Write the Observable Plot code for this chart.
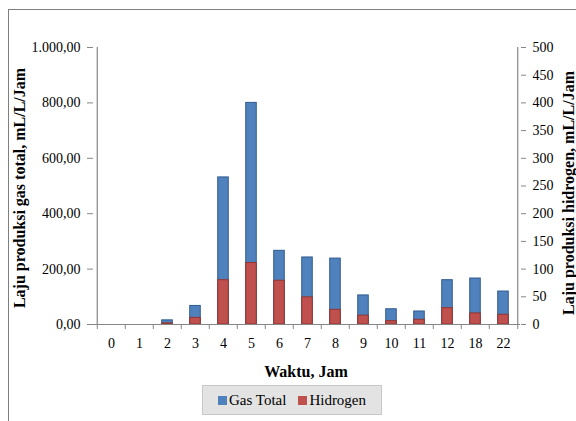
<!DOCTYPE html>
<html>
<head>
<meta charset="utf-8">
<script src="https://cdn.jsdelivr.net/npm/d3@7"></script>
<script src="https://cdn.jsdelivr.net/npm/@observablehq/plot@0.6"></script>
<style>
  html, body { margin: 0; padding: 0; background: #fff; }
  #wrap { position: relative; width: 576px; height: 421px; overflow: hidden; font-family: "Liberation Serif", "Times New Roman", serif; }
  #frame { position: absolute; left: 8px; top: 9px; width: 600px; height: 500px; border-left: 1.5px solid #7f7f7f; border-top: 1.5px solid #7f7f7f; }
  #chart { position: absolute; left: 0; top: 0; }
  .ttl { position: absolute; font-weight: bold; font-size: 16px; color: #000; white-space: nowrap; }
  #legend { position: absolute; left: 202px; top: 385px; width: 180px; height: 30px; background: #e3e3e3; border: 1px solid #c8c8c8; box-sizing: border-box; display: flex; align-items: center; justify-content: center; font-size: 15px; gap: 12px; }
  .sw { display: inline-block; width: 9px; height: 9px; margin-right: 2px; vertical-align: middle; position: relative; top: -1px; }
</style>
</head>
<body>
<div id="wrap">
  <div id="frame"></div>
  <div id="chart"></div>
  <div class="ttl" id="ylab" style="left:20px; top:188px; transform: translate(-50%,-50%) rotate(-90deg);">Laju produksi gas total, mL/L/Jam</div>
  <div class="ttl" id="y2lab" style="left:569px; top:193px; transform: translate(-50%,-50%) rotate(-90deg);">Laju produksi hidrogen, mL/L/Jam</div>
  <div class="ttl" id="xlab" style="left:306px; top:372px; transform: translate(-50%,-50%);">Waktu, Jam</div>
  <div id="legend">
    <span><span class="sw" style="background:#4f81bd"></span>Gas Total</span>
    <span><span class="sw" style="background:#c0504d"></span>Hidrogen</span>
  </div>
</div>
<script>
const hours = ["0","1","2","3","4","5","6","7","8","9","10","11","12","18","22"];
const gasTotal = [0, 0, 15, 67, 531, 800, 266, 242, 238, 105, 55, 47, 160, 166, 119];
const hidrogen = [0, 0, 2, 12, 80, 111, 79, 49, 26.5, 16, 6, 8.5, 29.5, 20, 17.5];
const leftTicks = [0, 200, 400, 600, 800, 1000];
const rightTicks = [0, 50, 100, 150, 200, 250, 300, 350, 400, 450, 500];

const rows = hours.map((h, i) => ({hour: h, gas: gasTotal[i], h2: hidrogen[i]}));
const W = 576, H = 421, mL = 93, mR = 56, mT = 47, mB = H - 324;
const step = (W - mL - mR) / hours.length;
const barW = 11;
const inset = (step - barW) / 2;
const ratio = 1000 / 500;
const idFmt = d3.formatLocale({decimal: ",", thousands: ".", grouping: [3], currency: ["", ""]}).format(",.2f");
const axisGrey = "#868686";

const plot = Plot.plot({
  width: W, height: H,
  marginLeft: mL, marginRight: mR, marginTop: mT, marginBottom: mB,
  style: {fontFamily: "Liberation Serif", fontSize: "14px", color: "#000", background: "transparent", overflow: "visible"},
  x: {type: "band", domain: hours, padding: 0, axis: null},
  y: {domain: [0, 1000], axis: null},
  marks: [
    Plot.barY(rows, {x: "hour", y: "gas", fill: "#4f81bd", stroke: "#2f5b8f", strokeWidth: 1, insetLeft: inset, insetRight: inset}),
    Plot.barY(rows, {x: "hour", y: d => d.h2 * ratio, fill: "#c0504d", stroke: "#933532", strokeWidth: 1, insetLeft: inset, insetRight: inset}),
    Plot.ruleY([0], {stroke: axisGrey, strokeWidth: 1.2}),
    Plot.ruleX([hours[0]], {dx: -step / 2, y1: 0, y2: 1000, stroke: axisGrey, strokeWidth: 1.2}),
    Plot.ruleX([hours[hours.length - 1]], {dx: step / 2, y1: 0, y2: 1000, stroke: axisGrey, strokeWidth: 1.2}),
    Plot.ruleX(hours, {x: d => d, dx: -step / 2, y1: 0, y2: -18, stroke: axisGrey}),
    Plot.ruleX([hours[hours.length - 1]], {dx: step / 2, y1: 0, y2: -18, stroke: axisGrey}),
    Plot.axisY({anchor: "left", ticks: leftTicks, tickFormat: idFmt, tickSize: 6, tickPadding: 7, stroke: axisGrey, fill: "#000", label: null}),
    Plot.axisY({anchor: "right", ticks: rightTicks.map(v => v * ratio), tickFormat: d => String(d / ratio), tickSize: 5, tickPadding: 7, stroke: axisGrey, fill: "#000", label: null}),
    Plot.axisX({anchor: "bottom", tickSize: 0, tickPadding: 14, fill: "#000", label: null})
  ]
});
document.getElementById("chart").appendChild(plot);
</script>
</body>
</html>
